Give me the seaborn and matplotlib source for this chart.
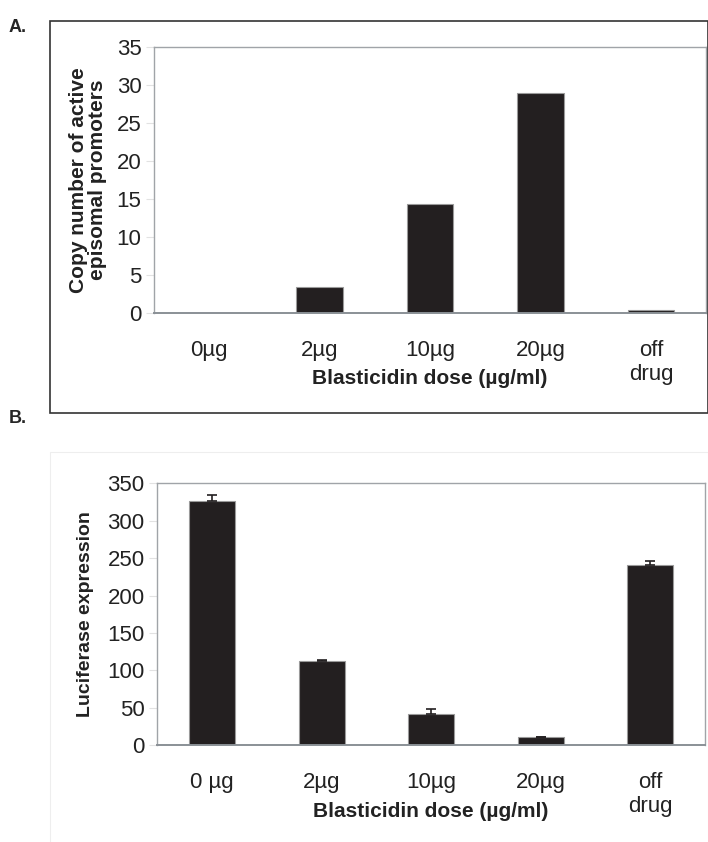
import matplotlib
matplotlib.use("Agg")
import matplotlib.pyplot as plt
import seaborn as sns
import numpy as np
import pandas as pd
from matplotlib.patches import Rectangle

# Data
doses = ["0µg", "2µg", "10µg", "20µg", "off\ndrug"]
doses_b = ["0 µg", "2µg", "10µg", "20µg", "off\ndrug"]
copy_number = [0.0, 3.5, 14.4, 29.0, 0.4]
luciferase = [327, 112, 41, 11, 241]
luciferase_err = [7, 1.5, 7, 0.5, 5]

bar_color = "#231f20"
frame_color = "#a0a4a8"

sns.set_style("white")
plt.rcParams["font.family"] = ["Liberation Sans", "DejaVu Sans"]

fig = plt.figure(figsize=(7.08, 8.42), dpi=100)

# outer panel boxes
fig.patches.append(Rectangle((0.0706, 0.5095), 0.93, 0.466, transform=fig.transFigure,
                             fill=False, edgecolor="#333333", linewidth=1.2))
fig.patches.append(Rectangle((0.0706, -0.01), 0.93, 0.473, transform=fig.transFigure,
                             fill=False, edgecolor="#eeeeee", linewidth=0.8))
fig.text(0.012, 0.978, "A.", fontsize=13, fontweight="bold", va="top")
fig.text(0.012, 0.513, "B.", fontsize=13, fontweight="bold", va="top")


def style_axes(ax, labels, ymax, step):
    ax.set_ylim(0, ymax)
    ax.set_xlim(-0.5, len(labels) - 0.5)
    ax.set_yticks(np.arange(0, ymax + 1, step))
    ax.set_xticks(range(len(labels)))
    ax.set_xticklabels(labels)
    ax.set_xticks(np.arange(-0.5, len(labels), 1.0), minor=True)
    ax.tick_params(axis="x", which="major", length=0, pad=19, labelsize=16, labelcolor="#222222")
    ax.tick_params(axis="x", which="minor", length=9, color="#dddddd", width=0.8)
    ax.tick_params(axis="y", left=True, length=6, color="#e2e2e2", width=0.8, pad=3,
                   labelsize=16, labelcolor="#222222")
    for side in ["top", "right", "left"]:
        ax.spines[side].set_color(frame_color)
        ax.spines[side].set_linewidth(1.0)
    ax.spines["bottom"].set_color("#8a9096")
    ax.spines["bottom"].set_linewidth(1.4)


# Panel A
ax1 = fig.add_axes([0.2175, 0.628, 0.78, 0.316])
df_a = pd.DataFrame({"dose": doses, "copies": copy_number})
sns.barplot(data=df_a, x="dose", y="copies", color=bar_color, width=0.42,
            edgecolor="#9a9a9a", linewidth=0.8, saturation=1, ax=ax1)
style_axes(ax1, doses, 35, 5)
ax1.set_xlabel("Blasticidin dose (µg/ml)", fontsize=15, fontweight="bold",
               color="#222222", va="center")
ax1.xaxis.set_label_coords(0.5, -0.245)
ax1.set_ylabel("Copy number of active\nepisomal promoters", fontsize=15, fontweight="bold",
               color="#222222", labelpad=7, linespacing=1.0)

# Panel B
ax2 = fig.add_axes([0.222, 0.115, 0.774, 0.311])
df_b = pd.DataFrame({"dose": doses_b, "lux": luciferase})
sns.barplot(data=df_b, x="dose", y="lux", color=bar_color, width=0.42,
            edgecolor="#9a9a9a", linewidth=0.8, saturation=1, ax=ax2)
ax2.errorbar(range(len(doses_b)), luciferase,
             yerr=[np.zeros(len(luciferase_err)), luciferase_err],
             fmt="none", ecolor=bar_color, elinewidth=1.2, capsize=3.5, capthick=1.2)
style_axes(ax2, doses_b, 350, 50)
ax2.set_xlabel("Blasticidin dose (µg/ml)", fontsize=15, fontweight="bold",
               color="#222222", va="center")
ax2.xaxis.set_label_coords(0.5, -0.255)
ax2.set_ylabel("Luciferase expression", fontsize=14, fontweight="bold",
               color="#222222", labelpad=10)

fig.savefig("out.png", dpi=100)
